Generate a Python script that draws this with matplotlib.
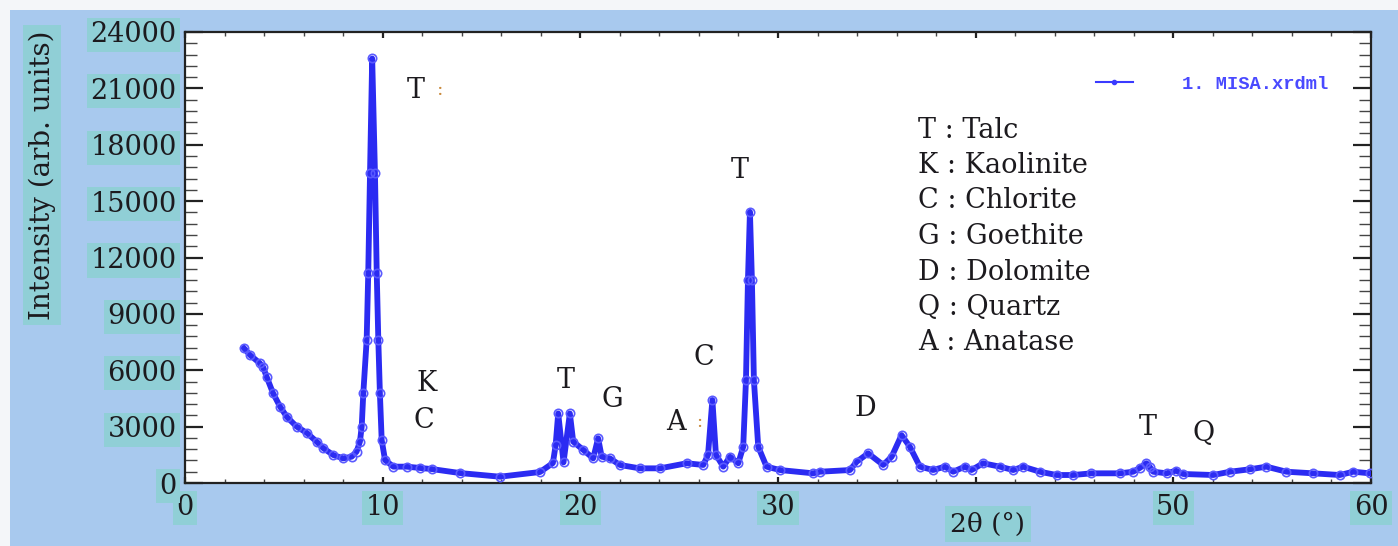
import matplotlib
matplotlib.use("Agg")
import matplotlib.pyplot as plt
from matplotlib.patches import Rectangle
from matplotlib.lines import Line2D
from matplotlib.ticker import MultipleLocator

# --- data (2theta in degrees, intensity in arb. units) ---
two_theta = [2.98, 3.29, 3.79, 3.95, 4.13, 4.45, 4.81, 5.16, 5.65, 6.17, 6.66, 7.0,
             7.5, 8.0, 8.43, 8.68, 8.85, 8.94, 9.02, 9.19, 9.27, 9.36, 9.47, 9.61,
             9.7, 9.78, 9.86, 9.95, 10.12, 10.54, 11.21, 11.89, 12.5, 13.91, 15.93,
             17.96, 18.61, 18.75, 18.88, 19.15, 19.47, 19.64, 20.15, 20.65, 20.9,
             21.08, 21.5, 22.0, 23.0, 24.03, 25.38, 26.22, 26.46, 26.68, 26.86,
             27.23, 27.57, 27.99, 28.24, 28.38, 28.48, 28.58, 28.68, 28.78, 29.0,
             29.42, 30.1, 31.78, 32.12, 33.64, 33.98, 34.56, 35.32, 35.75, 36.25,
             36.67, 37.18, 37.85, 38.44, 38.86, 39.45, 39.79, 40.38, 41.22, 41.9,
             42.4, 43.25, 44.09, 44.93, 45.86, 47.29, 47.97, 48.3, 48.64, 48.81,
             48.98, 49.66, 50.13, 50.5, 52.02, 52.86, 53.87, 54.71, 55.72, 57.07,
             58.42, 59.1, 59.94]
intensity = [7180, 6810, 6370, 6170, 5650, 4790, 4060, 3510, 3000, 2660, 2200, 1850,
             1490, 1310, 1400, 1670, 2200, 3000, 4770, 7600, 11150, 16480, 22590, 16480,
             11150, 7600, 4770, 2290, 1220, 870, 870, 800, 740, 530, 335,
             585, 1060, 2000, 3700, 1100, 3700, 2200, 1760, 1310, 2380,
             1400, 1310, 960, 780, 780, 1050, 960, 1500, 4415, 1500,
             870, 1400, 1050, 1930, 5480, 10800, 14430, 10800, 5480, 1930,
             870, 690, 515, 600, 690, 1130, 1580, 960, 1400, 2550,
             1930, 870, 690, 870, 600, 870, 690, 1050, 870, 690,
             870, 600, 425, 425, 515, 515, 600, 800, 1050, 850,
             600, 515, 655, 480, 425, 600, 730, 870, 600, 515,
             425, 600, 515]

# peak labels: text, 2theta, intensity
peak_labels = ["K", "C", "T", "G", "A", "C", "T", "D", "T", "Q"]
peak_x = [12.24, 12.09, 19.27, 21.6, 24.84, 26.25, 28.07, 34.4, 48.71, 51.54]
peak_y = [5270, 3350, 5480, 4420, 3245, 6700, 16650, 3990, 2930, 2660]

phases = ["T : Talc", "K : Kaolinite", "C : Chlorite", "G : Goethite",
          "D : Dolomite", "Q : Quartz", "A : Anatase"]

xticks = [0, 10, 20, 30, 40, 50, 60]
# the "40" label is hidden under the axis title in the original
xticklabels = ["0", "10", "20", "30", "", "50", "60"]
yticks = [0, 3000, 6000, 9000, 12000, 15000, 18000, 21000, 24000]

# --- styling ---
panel_blue = "#a8c9ee"
teal = "#90cfd6"
ink = "#1c1a1e"
trace = "#2b2bf2"
serif = ["DejaVu Serif"]
fs = 19.5

fig = plt.figure(figsize=(13.98, 5.46), dpi=100, facecolor=panel_blue)
# thin pale border on the left and top, as in the screenshot
fig.patches.append(Rectangle((0, 0), 10 / 1398, 1, transform=fig.transFigure,
                             facecolor="#f4f6f9", edgecolor="none", zorder=0))
fig.patches.append(Rectangle((0, 1 - 10 / 546), 1, 10 / 546, transform=fig.transFigure,
                             facecolor="#f4f6f9", edgecolor="none", zorder=0))

ax = fig.add_axes([185 / 1398, 63 / 546, 1186 / 1398, 451 / 546])
ax.set_zorder(2)
ax.set_facecolor("white")

ax.plot(two_theta, intensity, color=trace, lw=4.2, solid_joinstyle="round",
        marker="o", ms=6, mfc="none", mec="#5a5aff", mew=1.2, zorder=3)

ax.set_xlim(0, 60)
ax.set_ylim(0, 24000)
ax.set_xticks(xticks)
ax.set_xticklabels(xticklabels)
ax.set_yticks(yticks)
ax.xaxis.set_minor_locator(MultipleLocator(2))
ax.yaxis.set_minor_locator(MultipleLocator(600))

for s in ax.spines.values():
    s.set_color("#222222")
    s.set_linewidth(1.6)

ax.tick_params(axis="x", which="major", direction="in", length=4.5, width=1.6,
               top=True, pad=8, labelsize=fs, labelcolor=ink, color="#222222")
ax.tick_params(axis="x", which="minor", direction="in", length=3, width=1.0,
               top=True, color="#444444")
ax.tick_params(axis="y", which="major", direction="in", length=13, width=1.6,
               right=True, pad=6, labelsize=fs, labelcolor=ink, color="#222222")
ax.tick_params(axis="y", which="minor", direction="in", length=8.5, width=1.0,
               right=True, color="#444444")

for lab in ax.get_xticklabels() + ax.get_yticklabels():
    lab.set_family(serif)
    if lab.get_text():
        lab.set_bbox(dict(facecolor=teal, edgecolor="none", pad=2.5))

fig.text(42 / 1398, 1 - 175 / 546, "Intensity (arb. units)", rotation=90,
         ha="center", va="center", fontsize=20, family=serif, color=ink,
         bbox=dict(facecolor=teal, edgecolor="none", pad=4))
fig.text(988 / 1398, 1 - 524 / 546, "2θ (°)", ha="center", va="center",
         fontsize=19, family=serif, color=ink,
         bbox=dict(facecolor=teal, edgecolor="none", pad=4))

# peak letters
ax.text(11.2, 20900, "T", ha="left", va="center", fontsize=fs, family=serif, color=ink)
ax.text(12.75, 20900, ":", ha="left", va="center", fontsize=14, family=serif, color="#c98a3c")
for t, xx, yy in zip(peak_labels, peak_x, peak_y):
    ax.text(xx, yy, t, ha="center", va="center", fontsize=fs, family=serif, color=ink)
ax.text(26.0, 3245, ":", ha="center", va="center", fontsize=13, family=serif, color="#c98a3c")

# phase key
for i, p in enumerate(phases):
    ax.text(0.618, (483 - 130 - 35.5 * i) / 451, p, transform=ax.transAxes,
            ha="left", va="center", fontsize=fs, family=serif, color=ink)

handle = Line2D([], [], color="#3a3aff", lw=1.5, marker="o", ms=3)
leg = ax.legend([handle], ["1. MISA.xrdml"], loc="upper right",
                bbox_to_anchor=(0.978, 0.94), frameon=False, handlelength=2.0,
                handletextpad=2.6, prop=dict(family="Liberation Mono", weight="bold", size=13.5))
for txt in leg.get_texts():
    txt.set_color("#4a4aff")

fig.savefig("out.png", dpi=100, facecolor=fig.get_facecolor())
